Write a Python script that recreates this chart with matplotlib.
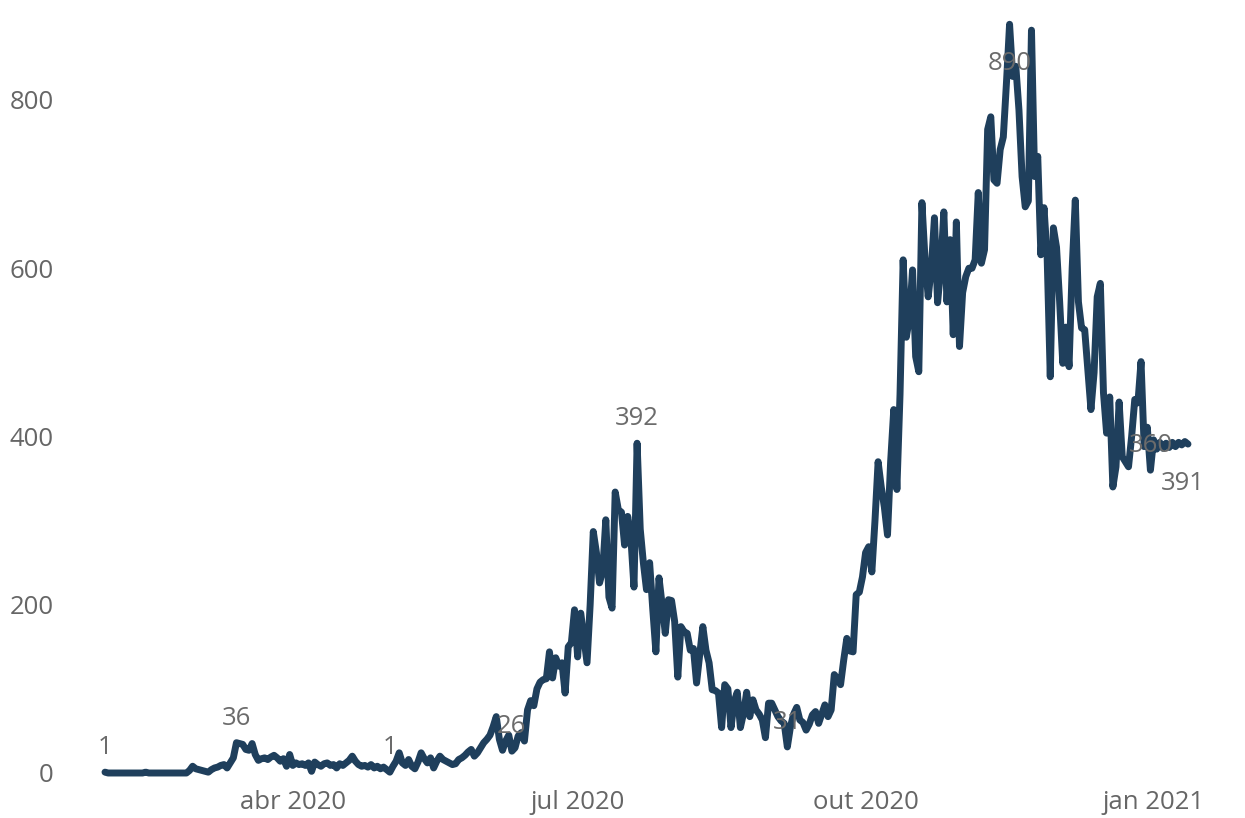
import matplotlib
matplotlib.use("Agg")
import matplotlib.pyplot as plt
import matplotlib.dates as mdates
import pandas as pd
import numpy as np

# ---- data (daily values, Feb 1 2020 - Jan 12 2021) ----
feb = [1,0,0,0,0,0,0,0,0,0,0,0,0,1,0,0,0,0,0,0,0,0,0,0,0,0,0,3,8]
mar = [5,4,3,2,1,4,6,7,9,10,6,12,18,36,35,34,28,27,35,22,15,17,18,16,19,21,18,14,17,8,22]
apr = [9,12,10,11,9,12,2,13,10,8,11,12,9,10,6,11,9,12,15,20,14,10,8,9,7,10,6,8,5,7]
may = [4,1,8,14,24,12,9,16,8,5,13,24,17,12,18,6,14,20,16,14,12,10,11,16,18,21,25,28,20,24,30]
jun = [36,40,45,55,67,40,27,38,45,26,30,44,48,38,75,86,80,100,108,111,112,144,113,137,127,131,95,150,155,194]
jul = [138,190,160,131,200,287,262,226,240,301,209,196,334,313,310,271,305,280,221,392,290,250,218,250,195,144,232,200,166,206,205]
aug = [180,114,174,168,166,146,148,107,140,174,146,131,99,98,95,54,105,100,54,85,96,54,71,96,67,87,75,70,63,42,83]
sep = [83,75,67,62,59,31,55,70,78,63,60,51,58,69,73,59,70,81,67,75,117,112,105,134,160,145,144,212,215,233]
oct_ = [262,269,239,300,370,340,316,283,370,432,337,450,610,518,540,598,495,477,678,610,566,600,660,559,600,667,560,634,521,655,507]
nov = [571,590,600,600,610,690,606,622,765,780,705,701,741,756,820,890,828,840,788,709,673,680,883,709,733,616,672,614,471,648]
dec = [625,560,487,530,483,600,681,560,529,527,480,432,476,566,582,452,404,447,340,364,441,376,370,364,400,444,440,489,388,411,360]
jan = [396,385,393,386,392,387,393,388,393,390,394,391]

start_date = "2020-02-01"
values = feb + mar + apr + may + jun + jul + aug + sep + oct_ + nov + dec + jan
dates = pd.date_range(start_date, periods=len(values), freq="D")

# labelled points (dates) and whether label goes below
label_dates = ["2020-02-01", "2020-03-14", "2020-05-02", "2020-06-10", "2020-07-20",
               "2020-09-06", "2020-11-16", "2020-12-31", "2021-01-12"]
label_below = [False, False, False, False, False, False, True, False, True]

xtick_dates = ["2020-04-01", "2020-07-01", "2020-10-01", "2021-01-01"]
xtick_labels = ["abr 2020", "jul 2020", "out 2020", "jan 2021"]
yticks = [0, 200, 400, 600, 800]

# ---- figure ----
W, H = 1245, 818
fig = plt.figure(figsize=(W / 100, H / 100), dpi=100)
plt.rcParams['font.family'] = ['Open Sans', 'DejaVu Sans']

ax_left, ax_right, ax_bottom, ax_top = 62, 1240, 780, 5
ax = fig.add_axes([ax_left / W, 1 - ax_bottom / H, (ax_right - ax_left) / W, (ax_bottom - ax_top) / H])

series = pd.Series(values, index=dates)
line_color = "#1f3f5c"
ax.plot(series.index, series.values, color=line_color, lw=5.0,
        solid_capstyle="round", solid_joinstyle="round", zorder=3)

# axis limits (pixel-calibrated)
px_per_day = 3.13
x0_px = 105
d0 = mdates.date2num(pd.Timestamp(start_date))
ax.set_xlim(d0 + (ax_left - x0_px) / px_per_day, d0 + (ax_right - x0_px) / px_per_day)
px_per_unit = 168.25 / 200
ax.set_ylim((773 - ax_bottom) / px_per_unit, (773 - ax_top) / px_per_unit)

ax.set_yticks(yticks)
ax.set_yticklabels([str(v) for v in yticks])
ax.set_xticks([mdates.date2num(pd.Timestamp(d)) for d in xtick_dates])
ax.set_xticklabels(xtick_labels)

tick_color = "#666666"
ax.tick_params(axis="both", length=0, labelsize=18.5, colors=tick_color)
ax.tick_params(axis="y", pad=6)
ax.tick_params(axis="x", pad=7)
for s in ax.spines.values():
    s.set_visible(False)
ax.grid(False)

# data labels
for ld, below in zip(label_dates, label_below):
    ts = pd.Timestamp(ld)
    v = series.loc[ts]
    if below:
        dx = -4 if ld == label_dates[-1] else 0
        ax.annotate(str(v), xy=(ts, v), xytext=(dx, -33), textcoords="offset points",
                    ha="center", va="baseline", fontsize=18.5, color="#6b6b6b", zorder=4)
    else:
        ax.annotate(str(v), xy=(ts, v), xytext=(0, 13), textcoords="offset points",
                    ha="center", va="baseline", fontsize=18.5, color="#6b6b6b", zorder=4)

fig.savefig("out.png", dpi=100, facecolor="white")
